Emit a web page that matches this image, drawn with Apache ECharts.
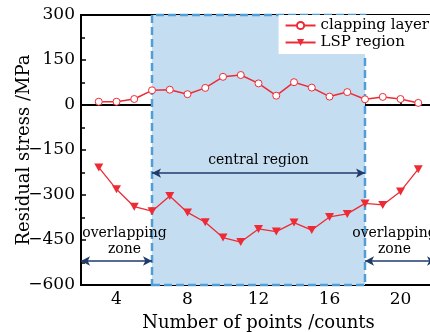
<!DOCTYPE html>
<html>
<head>
<meta charset="utf-8">
<script src="https://cdn.jsdelivr.net/npm/echarts@6/dist/echarts.min.js"></script>
<style>
  html, body { margin: 0; padding: 0; background: #fff; }
  #mainChart { width: 430px; height: 332px; }
</style>
</head>
<body>
<div id="mainChart"></div>
<script>
// 测点编号
var points = [3, 4, 5, 6, 7, 8, 9, 10, 11, 12, 13, 14, 15, 16, 17, 18, 19, 20, 21];
// clapping layer 残余应力
var clapping = [11, 11, 20, 49, 51, 36, 57, 94, 100, 72, 31, 76, 58, 28, 43, 19, 27, 20, 7];
// LSP region 残余应力
var lsp = [-208, -281, -339, -354, -303, -358, -391, -442, -457, -413, -422, -392, -417, -373, -363, -328, -333, -288, -214];
// 区域划分
var centralRange = [6, 18];
var yTicks = [-600, -450, -300, -150, 0, 150, 300];

var font = 'DejaVu Serif';
var red = '#ee2b35';
var navy = '#1f3a6b';

function pairs(ys) {
    var out = [];
    for (var i = 0; i < points.length; i++) out.push([points[i], ys[i]]);
    return out;
}

var myChart = echarts.init(document.getElementById('mainChart'));

myChart.setOption({
    animation: false,
    textStyle: { fontFamily: font },
    grid: {
        left: 81, top: 15, width: 355, height: 270,
        outerBoundsMode: 'none', containLabel: false,
        show: true, borderColor: '#000', borderWidth: 2
    },
    legend: {
        orient: 'vertical',
        right: 0, top: 15,
        backgroundColor: '#fff',
        padding: [3, 1, 4, 6],
        itemGap: 2,
        itemWidth: 30, itemHeight: 9,
        textStyle: { fontFamily: font, fontSize: 15, color: '#000' },
        data: ['clapping layer', 'LSP region']
    },
    xAxis: {
        type: 'value',
        min: 2, max: 22, interval: 2,
        name: 'Number of points /counts',
        nameLocation: 'middle', nameGap: 29,
        nameMoveOverlap: false,
        nameTextStyle: { fontFamily: font, fontSize: 18, color: '#000' },
        axisLine: { lineStyle: { color: '#000', width: 2 } },
        axisTick: { inside: true, length: 5, lineStyle: { color: '#000', width: 1.5 } },
        axisLabel: {
            fontFamily: font, fontSize: 17, color: '#000', margin: 6,
            formatter: function(v) { return (v % 4 === 0 && v > 2 && v < 22) ? v : ''; }
        },
        splitLine: { show: false }
    },
    yAxis: {
        type: 'value',
        min: yTicks[0], max: yTicks[yTicks.length - 1], interval: 150,
        name: 'Residual stress /MPa',
        nameLocation: 'middle', nameGap: 48,
        nameMoveOverlap: false,
        nameTextStyle: { fontFamily: font, fontSize: 18, color: '#000' },
        axisLine: { lineStyle: { color: '#000', width: 2 } },
        axisTick: { inside: true, length: 5, lineStyle: { color: '#000', width: 1.5 } },
        minorTick: { show: true, splitNumber: 2, length: 4, lineStyle: { color: '#000', width: 1.5 } },
        axisLabel: {
            fontFamily: font, fontSize: 17, color: '#000', margin: 6,
            formatter: function(v) { return v < 0 ? '\u2212' + (-v) : v; }
        },
        splitLine: { show: false }
    },
    series: [{
        name: 'clapping layer',
        type: 'line',
        data: pairs(clapping),
        symbol: 'circle', symbolSize: 7,
        itemStyle: { color: '#fff', borderColor: red, borderWidth: 1 },
        lineStyle: { color: red, width: 1.5 },
        z: 5,
        markArea: {
            silent: true,
            itemStyle: {
                color: '#c5ddf1',
                borderColor: '#4f9ed8', borderWidth: 2.5, borderType: [8, 4]
            },
            data: [[{ xAxis: centralRange[0] }, { xAxis: centralRange[1] }]]
        }
    }, {
        name: 'LSP region',
        type: 'line',
        data: pairs(lsp),
        symbol: 'path://M0,0L10,0L5,9Z', symbolSize: [9, 8],
        itemStyle: { color: red },
        lineStyle: { color: red, width: 1.3 },
        z: 5,
        markLine: {
            silent: true,
            symbol: ['arrow', 'arrow'],
            symbolSize: [7, 9],
            lineStyle: { color: navy, width: 1.5, type: 'solid' },
            label: {
                show: true, position: 'middle', distance: 4,
                fontFamily: font, fontSize: 14, color: '#000', lineHeight: 16
            },
            data: [
                [{ coord: [centralRange[0], -227], label: { formatter: 'central region', distance: 5 } },
                 { coord: [centralRange[1], -227] }],
                [{ coord: [2, -520], label: { formatter: 'overlapping\nzone', offset: [8, 0] } },
                 { coord: [centralRange[0], -520] }],
                [{ coord: [centralRange[1], -520], label: { formatter: 'overlapping\nzone', offset: [-6, 0] } },
                 { coord: [22, -520] }]
            ]
        }
    }]
});
</script>
</body>
</html>
